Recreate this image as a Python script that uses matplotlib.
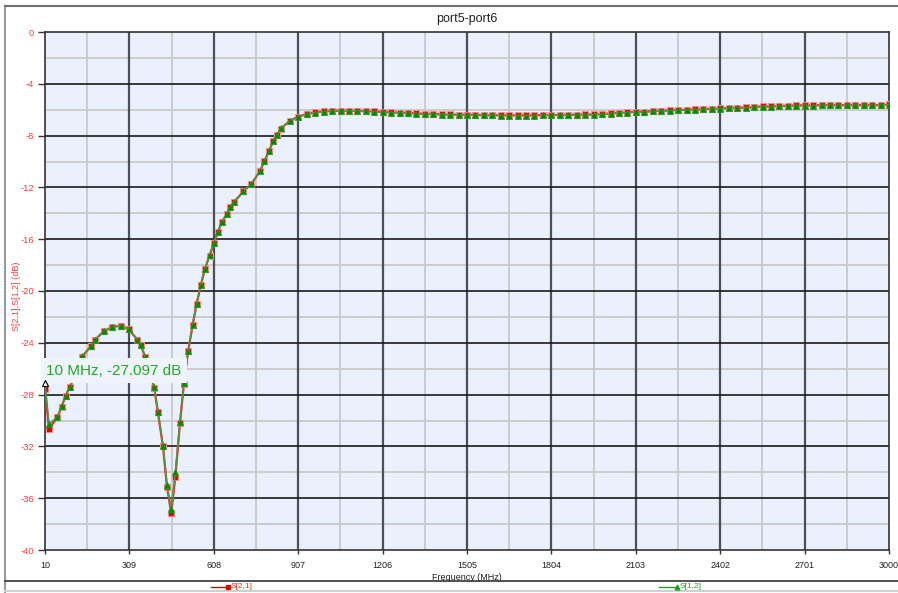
import matplotlib
matplotlib.use("Agg")
import matplotlib.pyplot as plt
from matplotlib.lines import Line2D

plt.rcParams['font.family'] = ['Liberation Sans', 'DejaVu Sans']

# frequency points (MHz)
freq = [10, 24, 54, 69, 83, 98, 113, 127, 142, 173, 187, 218, 246, 278,
        307, 337, 349, 365, 382, 397, 410, 428, 442, 457, 472, 488, 502,
        517, 533, 547, 562, 576, 593, 608, 622, 636, 654, 667, 681, 713,
        741, 772, 787, 804, 818, 832, 846, 877, 907, 937, 967,
        997, 1027, 1057, 1087, 1116, 1146, 1176, 1206, 1236, 1266, 1296,
        1326, 1356, 1386, 1415, 1445, 1475, 1505, 1535, 1565, 1595, 1625,
        1655, 1685, 1714, 1744, 1774, 1804, 1834, 1864, 1894, 1924, 1954,
        1984, 2014, 2043, 2073, 2103, 2133, 2163, 2193, 2223, 2253, 2283,
        2313, 2342, 2372, 2402, 2432, 2462, 2492, 2522, 2552, 2582, 2612,
        2642, 2671, 2701, 2731, 2761, 2791, 2821, 2851, 2881, 2911, 2941,
        2970, 3000]

s21 = [-27.57, -30.66, -29.75, -28.93, -28.1, -27.4, -26.7, -25.9, -25.07,
       -24.25, -23.78, -23.11, -22.8, -22.68, -22.96, -23.76, -24.17, -25.1,
       -26.3, -27.49, -29.37, -32.0, -35.1, -37.14, -34.33, -30.22, -27.18,
       -24.66, -22.63, -21.0, -19.56, -18.33, -17.27, -16.32, -15.47, -14.7,
       -14.05, -13.54, -13.1, -12.3, -11.74, -10.73, -9.99, -9.19, -8.44,
       -7.93, -7.46, -6.85, -6.54, -6.33, -6.2,
       -6.12, -6.08, -6.07, -6.07, -6.08, -6.1, -6.13, -6.16, -6.19, -6.22,
       -6.25, -6.28, -6.31, -6.33, -6.35, -6.37, -6.38, -6.39, -6.4, -6.41,
       -6.41, -6.42, -6.42, -6.42, -6.42, -6.42, -6.41, -6.41, -6.4, -6.39,
       -6.38, -6.37, -6.36, -6.33, -6.28, -6.23, -6.2, -6.15, -6.15, -6.1,
       -6.07, -6.05, -6.0, -6.0, -5.97, -5.95, -5.92, -5.89, -5.87, -5.84,
       -5.82, -5.79, -5.74, -5.74, -5.71, -5.69, -5.66, -5.66, -5.66, -5.64,
       -5.64, -5.64, -5.64, -5.64, -5.64, -5.64, -5.64, -5.59]

s12 = [-27.1, -30.3, -29.72, -28.9, -28.08, -27.38, -26.68, -25.88, -25.05,
       -24.23, -23.76, -23.1, -22.79, -22.67, -22.95, -23.75, -24.15, -25.08,
       -26.28, -27.45, -29.33, -31.95, -35.0, -36.8, -33.95, -30.15, -27.12,
       -24.62, -22.6, -20.98, -19.54, -18.31, -17.25, -16.3, -15.45, -14.69,
       -14.04, -13.53, -13.09, -12.29, -11.73, -10.72, -9.98, -9.18, -8.43,
       -7.92, -7.45, -6.85, -6.55, -6.35, -6.23,
       -6.15, -6.11, -6.1, -6.1, -6.11, -6.13, -6.16, -6.19, -6.22, -6.25,
       -6.28, -6.31, -6.34, -6.36, -6.38, -6.4, -6.41, -6.42, -6.43, -6.44,
       -6.44, -6.45, -6.45, -6.45, -6.45, -6.45, -6.44, -6.44, -6.43, -6.42,
       -6.41, -6.4, -6.39, -6.36, -6.31, -6.26, -6.23, -6.18, -6.18, -6.13,
       -6.1, -6.08, -6.03, -6.03, -6.0, -5.98, -5.95, -5.92, -5.9, -5.87,
       -5.85, -5.82, -5.77, -5.77, -5.74, -5.72, -5.69, -5.69, -5.69, -5.67,
       -5.67, -5.67, -5.67, -5.67, -5.67, -5.67, -5.67, -5.62]

x_ticks = [10, 309, 608, 907, 1206, 1505, 1804, 2103, 2402, 2701, 3000]
y_ticks = [0, -4, -8, -12, -16, -20, -24, -28, -32, -36, -40]
marker_label = "10 MHz, -27.097 dB"


def main():
    fig = plt.figure(figsize=(8.98, 5.93), dpi=100)
    ax = fig.add_axes([45 / 898, 1 - 550 / 593, 844 / 898, 518 / 593])
    ax.set_facecolor('#ebf1fc')

    # grid: light minor lines, dark major lines
    minor_x = [(a + b) / 2 for a, b in zip(x_ticks[:-1], x_ticks[1:])]
    minor_y = [(a + b) / 2 for a, b in zip(y_ticks[:-1], y_ticks[1:])]
    for x in minor_x:
        ax.axvline(x, color='#c9c9c9', lw=1.3, zorder=1)
    for y in minor_y:
        ax.axhline(y, color='#c9c9c9', lw=1.3, zorder=1)
    for x in x_ticks[1:-1]:
        ax.axvline(x, color='#4a4f58', lw=1.6, zorder=1)
    for y in y_ticks[1:-1]:
        ax.axhline(y, color='#1a1a1a', lw=1.2, zorder=1)

    ax.plot(freq, s21, color='#e03030', lw=1.6, marker='s', ms=4.8,
            mfc='#e00000', mec='#ff8a8a', mew=0.8, zorder=3)
    ax.plot(freq, s12, color='#5a9040', lw=1.2, marker='^', ms=4.0,
            mfc='#008a00', mec='#1f9a1f', mew=0.6, zorder=4)

    # marker readout
    ax.plot([10], [-27.097], marker='^', ms=4, mfc='white', mec='black',
            mew=0.8, ls='none', zorder=6, clip_on=False)
    ax.text(15, -26.15, marker_label, color='#22aa22', fontsize=11,
            ha='left', va='center', zorder=5,
            bbox=dict(boxstyle='square,pad=0.35', fc='#eef3fc', ec='none'))

    ax.set_xlim(10, 3000)
    ax.set_ylim(-40, 0)
    ax.set_xticks(x_ticks)
    ax.set_xticklabels([str(v) for v in x_ticks], fontsize=6.5,
                       color='#202020')
    ax.set_yticks(y_ticks)
    ax.set_yticklabels([str(v) for v in y_ticks], fontsize=6.8,
                       color='#ff3b3b')
    ax.tick_params(axis='x', length=3, width=1, color='#333333', pad=5)
    ax.tick_params(axis='y', length=5, width=1, color='#333333', pad=3)
    for sp in ax.spines.values():
        sp.set_color('#333333')
        sp.set_linewidth(1.2)

    ax.set_title('port5-port6', fontsize=9, color='#202020', pad=7)
    ax.set_xlabel('Frequency (MHz)', fontsize=6.5, color='#202020',
                  labelpad=2)
    ax.set_ylabel('S[2,1],S[1,2] (dB)', fontsize=6.5, color='#ff3b3b')
    ax.yaxis.set_label_coords(-24 / 844, 0.49)

    # outer frame and legend strip
    fig.add_artist(Line2D([5 / 898, 5 / 898], [0, 1 - 6 / 593],
                          color='#9a9a9a', lw=1.5))
    fig.add_artist(Line2D([5 / 898, 1], [1 - 6 / 593, 1 - 6 / 593],
                          color='#707070', lw=1.5))
    fig.add_artist(Line2D([5 / 898, 1], [1 - 581 / 593, 1 - 581 / 593],
                          color='#333333', lw=1.2))
    fig.add_artist(Line2D([5 / 898, 1], [1 - 591 / 593, 1 - 591 / 593],
                          color='#d0d0d0', lw=1.5))

    # legend entries
    ly = 1 - 587 / 593
    fig.add_artist(Line2D([211 / 898, 228 / 898], [ly, ly], color='#e00000',
                          lw=1, marker='s', ms=3.5, markevery=[1],
                          mfc='#e00000', mec='#e00000'))
    fig.text(231 / 898, ly, 'S[2,1]', color='#ff2020', fontsize=6,
             va='center')
    fig.add_artist(Line2D([659 / 898, 677 / 898], [ly, ly], color='#20a020',
                          lw=1, marker='^', ms=3.5, markevery=[1],
                          mfc='#20a020', mec='#20a020'))
    fig.text(680 / 898, ly, 'S[1,2]', color='#20a020', fontsize=6,
             va='center')

    fig.savefig('out.png', dpi=100)


if __name__ == "__main__":
    main()
